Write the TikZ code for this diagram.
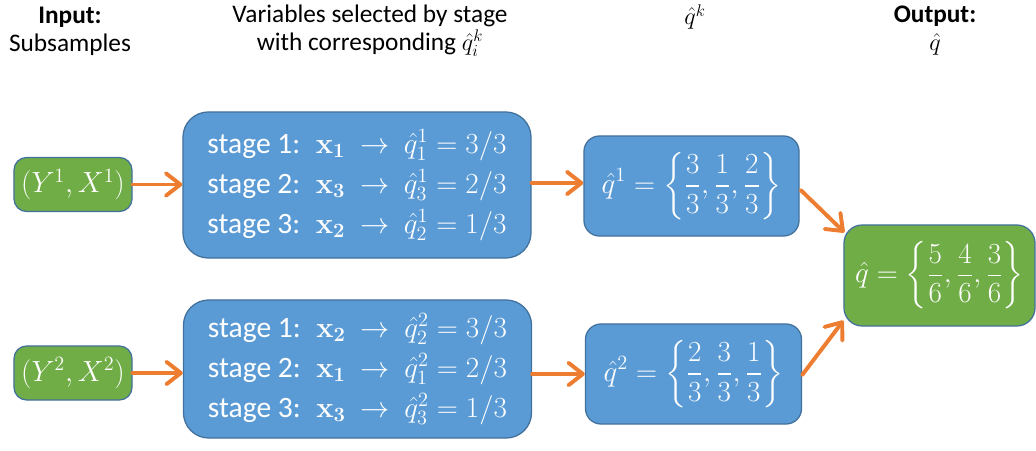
\documentclass[tikz,border=0pt]{standalone}
\usepackage{amsmath, amssymb}
\usepackage[no-math]{fontspec}
\setmainfont{Carlito}
\setsansfont{Carlito}
\usepackage{xcolor}
\usepackage{tikz}
\usetikzlibrary{calc, arrows.meta}

\definecolor{boxgreen}{HTML}{70AD47}
\definecolor{boxblue}{HTML}{5B9BD5}
\definecolor{edgeblue}{HTML}{41719C}
\definecolor{arrorange}{HTML}{ED7D31}

\begin{document}
\begin{tikzpicture}[x=0.025cm, y=-0.025cm, font=\sffamily,
  head/.style={font=\fontsize{18}{20}\selectfont, align=center, inner sep=0pt},
  greenbox/.style={fill=boxgreen, draw=edgeblue, line width=0.9pt, text=white,
    font=\fontsize{20}{24}\selectfont, inner sep=0pt},
  bluebox/.style={fill=boxblue, draw=edgeblue, line width=0.9pt, text=white,
    font=\fontsize{20}{28.5}\selectfont, inner sep=0pt},
  flow/.style={draw=arrorange, line width=2.8pt, line cap=round,
    -{Straight Barb[length=3.6mm, width=5.6mm, line cap=round, line join=round]}}]

\useasboundingbox (0,0) rectangle (1036,451);

%% ─── Column headers ─────────────────────────────────────────
\node[head] (hin) at (70,31) {\textbf{Input:}\\Subsamples};
\node[head] (hstage) at (370,31)
  {Variables selected by stage\\with corresponding $\hat{q}_i^k$};
\node[head] (hq) at (695,17) {$\hat{q}^k$};
\node[head] (hout) at (935,31) {\textbf{Output:}\\$\hat{q}$};

%% ─── Subsamples ─────────────────────────────────────────────
\node[greenbox, rounded corners=9pt, minimum width=2.95cm, minimum height=1.35cm]
  (sub1) at (73,184.5) {$(Y^1,X^1)$};
\node[greenbox, rounded corners=9pt, minimum width=2.95cm, minimum height=1.35cm]
  (sub2) at (73,373) {$(Y^2,X^2)$};

%% ─── Stage selections ───────────────────────────────────────
\node[bluebox, font=\fontsize{21}{28.5}\selectfont, rounded corners=18pt,
  minimum width=8.7cm, minimum height=3.65cm, align=left] (sel1) at (357,185)
  {stage 1:~ $\mathbf{x}_{\mathbf{1}}\ \rightarrow\ \hat{q}_1^1 = 3/3$\\
   stage 2:~ $\mathbf{x}_{\mathbf{3}}\ \rightarrow\ \hat{q}_3^1 = 2/3$\\
   stage 3:~ $\mathbf{x}_{\mathbf{2}}\ \rightarrow\ \hat{q}_2^1 = 1/3$};
\node[bluebox, font=\fontsize{21}{28.5}\selectfont, rounded corners=18pt,
  minimum width=8.7cm, minimum height=3.45cm, align=left] (sel2) at (357.5,369)
  {stage 1:~ $\mathbf{x}_{\mathbf{2}}\ \rightarrow\ \hat{q}_2^2 = 3/3$\\
   stage 2:~ $\mathbf{x}_{\mathbf{1}}\ \rightarrow\ \hat{q}_1^2 = 2/3$\\
   stage 3:~ $\mathbf{x}_{\mathbf{3}}\ \rightarrow\ \hat{q}_3^2 = 1/3$};

%% ─── Per-subsample q-hat ────────────────────────────────────
\node[bluebox, rounded corners=11pt, minimum width=5.375cm, minimum height=2.5cm]
  (qk1) at (691.5,186)
  {$\displaystyle \hat{q}^1 = \left\{\frac{3}{3},\frac{1}{3},\frac{2}{3}\right\}$};
\node[bluebox, rounded corners=11pt, minimum width=5.4cm, minimum height=2.5cm]
  (qk2) at (693.5,374)
  {$\displaystyle \hat{q}^2 = \left\{\frac{2}{3},\frac{3}{3},\frac{1}{3}\right\}$};

%% ─── Output ─────────────────────────────────────────────────
\node[greenbox, rounded corners=13pt, minimum width=4.775cm, minimum height=2.525cm]
  (qout) at (939.5,275.5)
  {$\displaystyle \hat{q} = \left\{\frac{5}{6},\frac{4}{6},\frac{3}{6}\right\}$};

%% ─── Arrows ─────────────────────────────────────────────────
\draw[flow] (sub1.east) -- (sub1.east -| sel1.west);
\draw[flow] (sub2.east) -- (sub2.east -| sel2.west);
\draw[flow] (sel1.east |- 0,183) -- (qk1.west |- 0,183);
\draw[flow] (sel2.east |- qk2.west) -- (qk2.west);
\draw[flow] ($(qk1.east)+(1,4)$) -- ($(qout.north west)+(1,8)$);
\draw[flow] ($(qk2.east)+(0,1)$) -- ($(qout.south west)+(0,-6)$);

\end{tikzpicture}
\end{document}
